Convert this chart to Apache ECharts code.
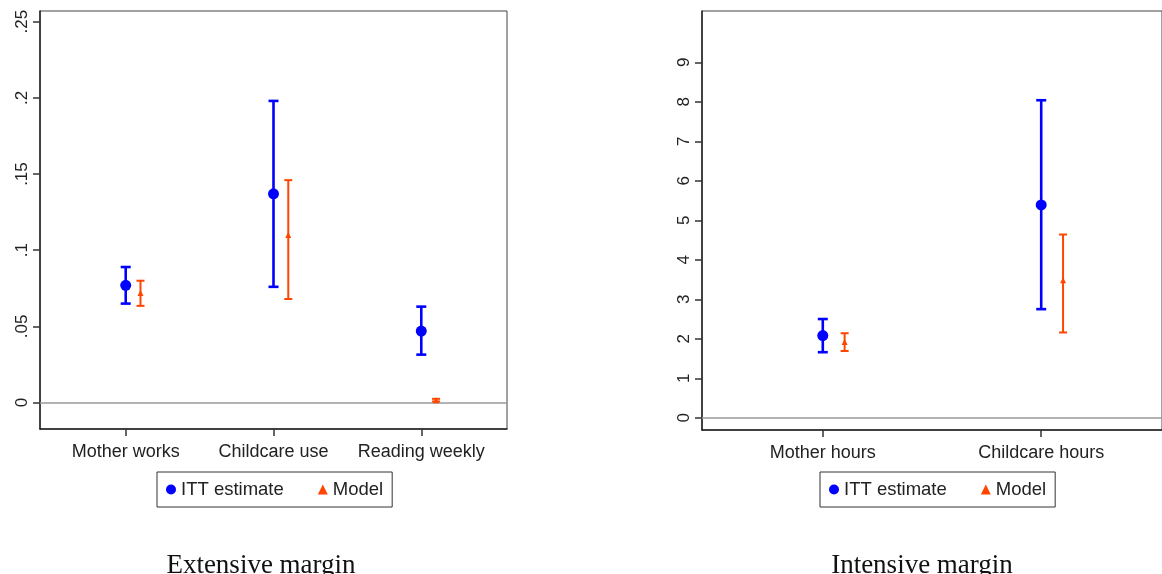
<!DOCTYPE html>
<html>
<head>
<meta charset="utf-8">
<title>Extensive and intensive margin</title>
<script src="https://cdn.jsdelivr.net/npm/echarts@6/dist/echarts.min.js"></script>
<style>
  html, body { margin: 0; padding: 0; background: #fff; }
  #chart { width: 1162px; height: 574px; }
</style>
</head>
<body>
<div id="chart"></div>
<script>
// Extensive margin: ITT estimates and model predictions with confidence intervals
const extCategories = ['Mother works', 'Childcare use', 'Reading weekly'];
const extItt = [0.077, 0.137, 0.047];
const extIttLow = [0.065, 0.076, 0.0315];
const extIttHigh = [0.089, 0.198, 0.063];
const extModel = [0.072, 0.110, 0.0015];
const extModelLow = [0.0635, 0.068, 0.0008];
const extModelHigh = [0.080, 0.146, 0.0025];
const extTicks = [0, 0.05, 0.1, 0.15, 0.2, 0.25];
const extTickLabels = ['0', '.05', '.1', '.15', '.2', '.25'];

// Intensive margin (hours)
const intCategories = ['Mother hours', 'Childcare hours'];
const intItt = [2.08, 5.39];
const intIttLow = [1.66, 2.75];
const intIttHigh = [2.50, 8.04];
const intModel = [1.92, 3.48];
const intModelLow = [1.69, 2.16];
const intModelHigh = [2.14, 4.64];
const intTicks = [0, 1, 2, 3, 4, 5, 6, 7, 8, 9];
const intTickLabels = ['0', '1', '2', '3', '4', '5', '6', '7', '8', '9'];

const BLUE = '#0000ff';
const ORANGE = '#ff4500';
const MODEL_SHIFT = 0.1;   // model marks sit just right of each category
const FONT = 'Liberation Sans, Arial, sans-serif';
const SERIF = 'Liberation Serif, Times New Roman, serif';

function barData(lows, highs, shift) {
  return lows.map((lo, i) => [i + 1 + shift, lo, highs[i]]);
}
function pointData(vals, shift) {
  return vals.map((v, i) => [i + 1 + shift, v]);
}

function errorBars(name, gridIdx, data, color, width, cap) {
  return {
    name: name,
    type: 'custom',
    xAxisIndex: gridIdx,
    yAxisIndex: gridIdx,
    silent: true,
    z: 3,
    itemStyle: { color: color },
    data: data,
    encode: { x: 0, y: [1, 2] },
    renderItem: function (params, api) {
      const x = api.value(0);
      const lo = api.coord([x, api.value(1)]);
      const hi = api.coord([x, api.value(2)]);
      const style = { stroke: color, lineWidth: width, fill: null };
      return {
        type: 'group',
        children: [
          { type: 'line', shape: { x1: lo[0], y1: lo[1], x2: hi[0], y2: hi[1] }, style: style },
          { type: 'line', shape: { x1: hi[0] - cap, y1: hi[1], x2: hi[0] + cap, y2: hi[1] }, style: style },
          { type: 'line', shape: { x1: lo[0] - cap, y1: lo[1], x2: lo[0] + cap, y2: lo[1] }, style: style }
        ]
      };
    }
  };
}

function points(name, gridIdx, data, color, symbol, size, zeroLine) {
  const s = {
    name: name,
    type: 'scatter',
    xAxisIndex: gridIdx,
    yAxisIndex: gridIdx,
    symbol: symbol,
    symbolSize: size,
    itemStyle: { color: color, opacity: 1 },
    z: 4,
    data: data
  };
  if (zeroLine) {
    s.markLine = {
      silent: true,
      symbol: 'none',
      label: { show: false },
      lineStyle: { color: '#9a9a9a', width: 1.5, type: 'solid' },
      z: 1,
      data: [{ yAxis: 0 }]
    };
  }
  return s;
}

function xAxis(gridIdx, cats, min, max) {
  const vals = cats.map((c, i) => i + 1);
  return {
    type: 'value',
    gridIndex: gridIdx,
    min: min,
    max: max,
    splitLine: { show: false },
    axisLine: { show: true, onZero: false, lineStyle: { color: '#222', width: 1.5 } },
    axisTick: { show: true, length: 7, customValues: vals, lineStyle: { color: '#333', width: 1.5 } },
    axisLabel: {
      customValues: vals,
      margin: 14,
      fontSize: 18,
      fontFamily: FONT,
      color: '#222',
      formatter: v => cats[Math.round(v) - 1] || ''
    }
  };
}

function yAxis(gridIdx, ticks, labels, min, max) {
  return {
    type: 'value',
    gridIndex: gridIdx,
    min: min,
    max: max,
    splitLine: { show: false },
    axisLine: { show: true, onZero: false, lineStyle: { color: '#222', width: 1.5 } },
    axisTick: { show: true, length: 7, customValues: ticks, lineStyle: { color: '#333', width: 1.5 } },
    axisLabel: {
      customValues: ticks,
      rotate: 90,
      margin: 9,
      fontSize: 17,
      fontFamily: FONT,
      color: '#222',
      formatter: v => {
        const i = ticks.findIndex(t => Math.abs(t - v) < 1e-9);
        return i >= 0 ? labels[i] : '';
      }
    }
  };
}

function legend(left) {
  return {
    left: left,
    top: 472,
    orient: 'horizontal',
    padding: [8, 9, 8, 9],
    itemGap: 34,
    itemWidth: 10,
    itemHeight: 10,
    borderColor: '#333',
    borderWidth: 1,
    selectedMode: false,
    textStyle: { fontSize: 18.5, fontFamily: FONT, color: '#222' },
    data: [
      { name: 'ITT estimate', icon: 'circle', itemStyle: { color: BLUE } },
      { name: 'Model', icon: 'triangle', itemStyle: { color: ORANGE } }
    ]
  };
}

const chart = echarts.init(document.getElementById('chart'), null, { renderer: 'canvas' });

chart.setOption({
  animation: false,
  backgroundColor: '#fff',
  title: [
    {
      text: 'Extensive margin', left: 256, top: 547, textAlign: 'center',
      textStyle: { fontFamily: SERIF, fontWeight: 'normal', fontSize: 27, color: '#111', letterSpacing: 1.5 }
    },
    {
      text: 'Intensive margin', left: 917, top: 547, textAlign: 'center',
      textStyle: { fontFamily: SERIF, fontWeight: 'normal', fontSize: 27, color: '#111', letterSpacing: 1.5 }
    }
  ],
  legend: [legend(157), legend(820)],
  grid: [
    { left: 40, top: 11, width: 467, height: 418, show: true, borderColor: '#444', borderWidth: 1, containLabel: false },
    { left: 702, top: 11, width: 467, height: 419, show: true, borderColor: '#444', borderWidth: 1, containLabel: false }
  ],
  xAxis: [
    xAxis(0, extCategories, 0.42, 3.58),
    xAxis(1, intCategories, 0.447, 2.553)
  ],
  yAxis: [
    yAxis(0, extTicks, extTickLabels, -0.0173, 0.257),
    yAxis(1, intTicks, intTickLabels, -0.31, 10.3)
  ],
  series: [
    errorBars('ITT estimate', 0, barData(extIttLow, extIttHigh, 0), BLUE, 2.6, 5),
    errorBars('Model', 0, barData(extModelLow, extModelHigh, MODEL_SHIFT), ORANGE, 2, 4),
    points('ITT estimate', 0, pointData(extItt, 0), BLUE, 'circle', 11, true),
    points('Model', 0, pointData(extModel, MODEL_SHIFT), ORANGE, 'triangle', 6, false),
    errorBars('ITT estimate', 1, barData(intIttLow, intIttHigh, 0), BLUE, 2.6, 5),
    errorBars('Model', 1, barData(intModelLow, intModelHigh, MODEL_SHIFT), ORANGE, 2, 4),
    points('ITT estimate', 1, pointData(intItt, 0), BLUE, 'circle', 11, true),
    points('Model', 1, pointData(intModel, MODEL_SHIFT), ORANGE, 'triangle', 6, false)
  ]
});
</script>
</body>
</html>
